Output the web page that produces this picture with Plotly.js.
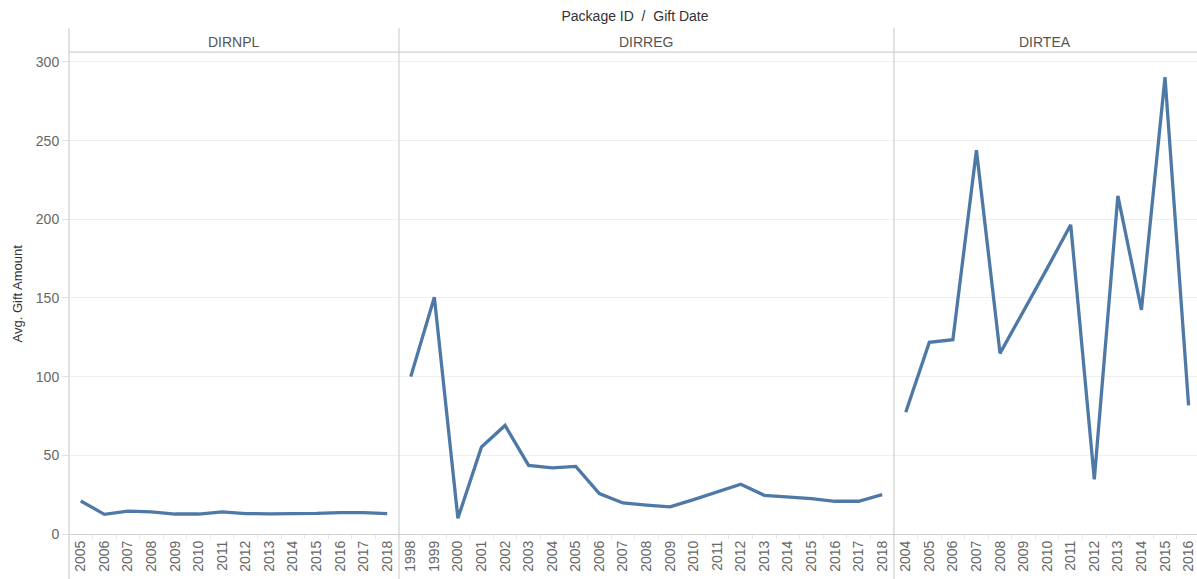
<!DOCTYPE html>
<html>
<head>
<meta charset="utf-8">
<script src="https://cdn.plot.ly/plotly-3.0.1.min.js"></script>
<style>html,body{margin:0;padding:0;background:#fff;}#chart{width:1197px;height:579px;}</style>
</head>
<body>
<div id="chart"></div>
<script>
// ---- Data ----
const nplYears = ['2005','2006','2007','2008','2009','2010','2011','2012','2013','2014','2015','2016','2017','2018'];
const nplValues = [21, 12.5, 14.5, 14, 12.7, 12.7, 14, 13, 12.8, 12.8, 13.1, 13.6, 13.6, 13];

const regYears = ['1998','1999','2000','2001','2002','2003','2004','2005','2006','2007','2008','2009','2010','2011','2012','2013','2014','2015','2016','2017','2018'];
const regValues = [100, 150.5, 10, 55.3, 69, 43.6, 42, 43, 25.7, 19.7, 18.4, 17.2, 21.8, 26.7, 31.6, 24.6, 23.5, 22.5, 20.8, 20.8, 25];

const teaYears = ['2004','2005','2006','2007','2008','2009','2010','2011','2012','2013','2014','2015','2016'];
const teaValues = [77.4, 121.8, 123.5, 243.9, 114.8, 141.4, 168.8, 196.5, 34.7, 214.9, 142.4, 290.4, 81.7];

const panelNames = ['DIRNPL', 'DIRREG', 'DIRTEA'];
const yTicks = [0, 50, 100, 150, 200, 250, 300];

// ---- Layout helpers ----
const W = 1197, H = 579;
const mL = 69, mR = 0, mT = 53, mB = 45;
const plotW = W - mL - mR, plotH = H - mT - mB;
const catW = 23.57;
const d1 = (nplYears.length * catW) / plotW;
const d2 = d1 + (regYears.length * catW) / plotW;
const lastRange = (plotW * (1 - d2)) / catW - 0.5;

const lineColor = '#4e79a7';
const FONT = '"Liberation Sans", Arial, Helvetica, sans-serif';

function trace(x, y, xa) {
  return {x: x, y: y, xaxis: xa, yaxis: 'y', type: 'scatter', mode: 'lines',
    line: {color: lineColor, width: 3.3}, hoverinfo: 'x+y', showlegend: false};
}

function xAxis(domain, range, cats) {
  return {
    domain: domain, anchor: 'y', type: 'category', range: range,
    categoryorder: 'array', categoryarray: cats,
    tickangle: -90, showgrid: false, zeroline: false,
    showline: true, linecolor: '#d0d0d0', linewidth: 1,
    ticks: 'outside', tickson: 'boundaries', ticklen: 4, tickcolor: '#e8e8e8',
    tickfont: {family: FONT, size: 14, color: '#666'}, fixedrange: true
  };
}

const data = [
  trace(nplYears, nplValues, 'x'),
  trace(regYears, regValues, 'x2'),
  trace(teaYears, teaValues, 'x3')
];

const yTopPaper = (H - mB - 28) / plotH;
const yBotPaper = -(mB) / plotH;
const vLines = [0, d1, d2].map(function (xp) {
  return {type: 'line', xref: 'paper', yref: 'paper', x0: xp, x1: xp, y0: yBotPaper, y1: yTopPaper,
    line: {color: '#d0d0d0', width: 1.2}};
});
const headerLine = {type: 'line', xref: 'paper', yref: 'paper', x0: 0, x1: 1, y0: 1.002, y1: 1.002,
  line: {color: '#d0d0d0', width: 1.2}};

const centers = [d1 / 2, (d1 + d2) / 2, (d2 + 1) / 2];
const headerY = (H - mB - 42) / plotH;
const annotations = panelNames.map(function (n, i) {
  return {text: n, xref: 'paper', yref: 'paper', x: centers[i], y: headerY,
    xanchor: 'center', yanchor: 'middle', showarrow: false,
    font: {family: FONT, size: 14, color: '#555'}};
});
annotations.push({text: 'Avg. Gift Amount', xref: 'paper', yref: 'paper',
  x: (17 - mL) / plotW, y: 0.5, xanchor: 'center', yanchor: 'middle', textangle: -90,
  showarrow: false, font: {family: FONT, size: 13, color: '#333'}});

const layout = {
  width: W, height: H,
  margin: {l: mL, r: mR, t: mT, b: mB, pad: 0},
  paper_bgcolor: '#fff', plot_bgcolor: '#fff',
  title: {text: 'Package ID \u00a0/\u00a0 Gift Date', x: 635 / W, y: 1 - 16 / H,
    xanchor: 'center', yanchor: 'middle', xref: 'container', yref: 'container',
    font: {family: FONT, size: 14, color: '#333'}},
  xaxis: xAxis([0, d1], [-0.5, nplYears.length - 0.5], nplYears),
  xaxis2: xAxis([d1, d2], [-0.5, regYears.length - 0.5], regYears),
  xaxis3: xAxis([d2, 1], [-0.5, lastRange], teaYears),
  yaxis: {
    domain: [0, 1], anchor: 'x', range: [0, plotH / 1.5735],
    tickvals: yTicks, ticktext: yTicks.map(String),
    showgrid: true, gridcolor: '#efefef', gridwidth: 1, zeroline: false,
    showline: false, ticks: 'outside', ticklen: 6, tickcolor: '#e0e0e0',
    tickfont: {family: FONT, size: 14, color: '#666'}, fixedrange: true
  },
  shapes: vLines.concat([headerLine]),
  annotations: annotations,
  showlegend: false
};

Plotly.newPlot('chart', data, layout, {displayModeBar: false, staticPlot: true});
</script>
</body>
</html>
